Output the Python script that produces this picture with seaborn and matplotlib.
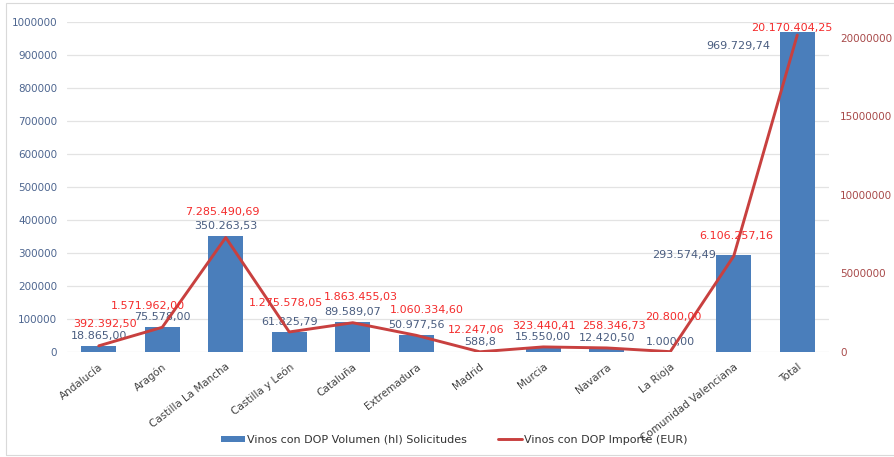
import numpy as np
import pandas as pd
import matplotlib
matplotlib.use("Agg")
import matplotlib.pyplot as plt
import seaborn as sns
from matplotlib.patches import Patch, Rectangle
from matplotlib.lines import Line2D

# ---------------- data ----------------
regions = ["Andalucía", "Aragón", "Castilla La Mancha", "Castilla y León", "Cataluña",
           "Extremadura", "Madrid", "Murcia", "Navarra", "La Rioja",
           "Comunidad Valenciana", "Total"]
volumen = [18865.00, 75578.00, 350263.53, 61825.79, 89589.07, 50977.56,
           588.8, 15550.00, 12420.50, 1000.00, 293574.49, 969729.74]
importe = [392392.50, 1571962.00, 7285490.69, 1275578.05, 1863455.03, 1060334.60,
           12247.06, 323440.41, 258346.73, 20800.00, 6106257.16, 20170404.25]
vol_labels = ["18.865,00", "75.578,00", "350.263,53", "61.825,79", "89.589,07", "50.977,56",
              "588,8", "15.550,00", "12.420,50", "1.000,00", "293.574,49", "969.729,74"]
imp_labels = ["392.392,50", "1.571.962,00", "7.285.490,69", "1.275.578,05", "1.863.455,03",
              "1.060.334,60", "12.247,06", "323.440,41", "258.346,73", "20.800,00",
              "6.106.257,16", "20.170.404,25"]
left_ticks = [0, 100000, 200000, 300000, 400000, 500000, 600000, 700000, 800000, 900000, 1000000]
right_ticks = [0, 5000000, 10000000, 15000000, 20000000]
series_names = ["Vinos con DOP Volumen (hl) Solicitudes", "Vinos con DOP Importe (EUR)"]

# ---------------- style ----------------
BAR = "#4A7EBB"
LINE = "#C8403F"
RED_TXT = "#F42B2B"
BLUE_TXT = "#4A5D80"
LEFT_TICK = "#4E6690"
RIGHT_TICK = "#A84A4A"
GRID = "#E3E3E3"

sns.set_theme(style="white")
plt.rcParams["font.family"] = ["DejaVu Sans"]

W, H = 894, 457
fig = plt.figure(figsize=(W / 100, H / 100), dpi=100)
fig.patch.set_facecolor("white")
fig.add_artist(Rectangle((6 / W, 2 / H), 1.2, (454 - 2) / H, transform=fig.transFigure,
                         fill=False, edgecolor="#D9D9D9", lw=0.8))

ax = fig.add_axes([67 / W, 1 - 352 / H, (829 - 67) / W, (352 - 22) / H])
df = pd.DataFrame({"Región": regions, "Volumen": volumen, "Importe": importe,
                   "pos": np.arange(len(regions))})

sns.barplot(data=df, x="Región", y="Volumen", color=BAR, saturation=1, width=0.55,
            linewidth=0, ax=ax, zorder=2)
ax.set_ylim(0, 1000000)
ax.set_xlim(-0.5, len(regions) - 0.5)
ax.set_yticks(left_ticks)
ax.set_yticklabels([str(t) for t in left_ticks])
ax.grid(axis="y", color=GRID, lw=0.9, zorder=0)
ax.set_axisbelow(True)
ax.tick_params(axis="y", length=0, pad=7, labelsize=7.5, labelcolor=LEFT_TICK)
ax.tick_params(axis="x", length=0, pad=7, labelsize=7.5, labelcolor="#404040")
ax.set_xticks(range(len(regions)))
ax.set_xticklabels(regions, rotation=38, ha="right", rotation_mode="anchor")
ax.set_xlabel("")
ax.set_ylabel("")
for s in ax.spines.values():
    s.set_visible(False)

ax2 = ax.twinx()
sns.lineplot(data=df, x="pos", y="Importe", color=LINE, lw=2.1, ax=ax2, zorder=3)
ax2.set_ylim(0, 21.0e6)
ax2.set_xlim(-0.5, len(regions) - 0.5)
ax2.set_yticks(right_ticks)
ax2.set_yticklabels([str(t) for t in right_ticks])
ax2.tick_params(axis="y", length=0, pad=8, labelsize=7.5, labelcolor=RIGHT_TICK)
ax2.set_ylabel("")
ax2.set_xlabel("")
for s in ax2.spines.values():
    s.set_visible(False)

px = 0.72  # points per pixel at 100 dpi

# bar value labels (pixel offsets)
bar_off = {10: (0, 0, "right"), 11: (-10, -14, "right")}
for i, (v, lab) in enumerate(zip(volumen, vol_labels)):
    dx, dy, ha = bar_off.get(i, (0, 10, "center"))
    xx = i - 0.275 if ha == "right" else i
    ax.annotate(lab, (xx, v), xytext=(dx * px, dy * px), textcoords="offset points",
                ha=ha, va="center", fontsize=8, color=BLUE_TXT, zorder=5)

# line value labels (pixel offsets)
imp_off = [(6, 22), (-14, 21), (-3, 26), (-3, 29), (8, 26), (11, 25),
           (-4, 22), (1, 21), (7, 22), (3, 35), (2, 20), (-5, 7)]
for i, (v, lab) in enumerate(zip(importe, imp_labels)):
    dx, dy = imp_off[i]
    ax2.annotate(lab, (i, v), xytext=(dx * px, dy * px), textcoords="offset points",
                 ha="center", va="center", fontsize=8, color=RED_TXT, zorder=6)

handles = [Patch(facecolor=BAR, edgecolor="none"), Line2D([0], [0], color=LINE, lw=2.1)]
fig.legend(handles, series_names, loc="center", bbox_to_anchor=(454 / W, 1 - 440 / H),
           ncol=2, frameon=False, fontsize=8, handlelength=2.2, handleheight=0.55,
           handletextpad=0.15, columnspacing=2.8, labelcolor="#333333")

fig.savefig("out.png", dpi=100, facecolor="white")
